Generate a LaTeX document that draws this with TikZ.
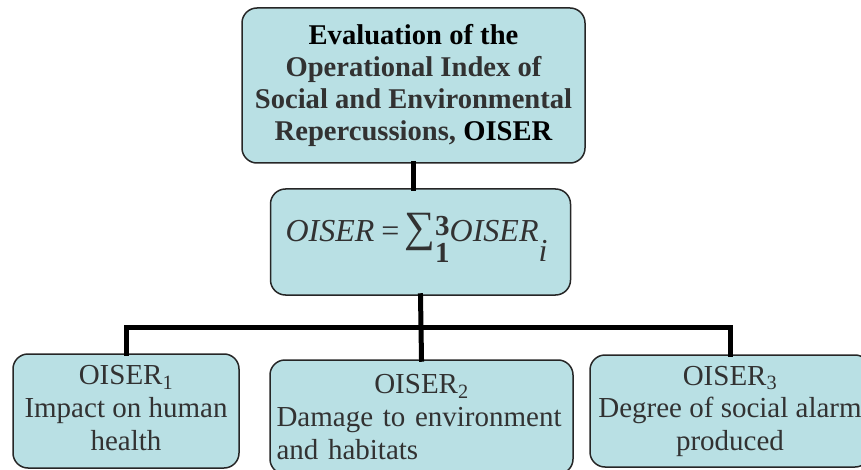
\documentclass[tikz,border=0pt]{standalone}
\usepackage{fontspec}
\setmainfont{Liberation Serif}
\usepackage{xcolor}
\definecolor{boxfill}{RGB}{185,224,228}
\definecolor{boxtext}{RGB}{50,50,50}

\begin{document}
\begin{tikzpicture}[x=1pt,y=-1pt,
    box/.style={draw=black!85,line width=1.5pt,fill=boxfill,rounded corners=15pt,inner sep=0pt,align=center,text=boxtext},
    link/.style={line width=5pt,line cap=rect}]
  \useasboundingbox (0,0) rectangle (861,470);
  \clip (0,0) rectangle (861,470);
  % boxes
  \node[box,minimum width=343pt,minimum height=155pt,font=\fontsize{28.6}{32}\selectfont\bfseries] (eval) at (413.5,85.5)
    {\textcolor{black}{Evaluation of the}\\Operational Index of\\Social and Environmental\\Repercussions, \textcolor{black}{OISER}};
  \node[box,minimum width=300pt,minimum height=106pt,text height=10pt,text depth=11pt,font=\fontsize{32}{36}\selectfont] (sum) at (420.5,242)
    {\hspace*{-8pt}\textit{OISER}\hspace{7pt}=\hspace{5pt}\scalebox{1.35}{∑}\rlap{\smash{\raisebox{6pt}{\fontsize{29}{29}\selectfont\textbf{3}}}}\smash{\raisebox{-21pt}{\fontsize{29}{29}\selectfont\textbf{1}}}\textit{OISER}\smash{\raisebox{-20pt}{\textit{i}}}};
  \node[box,minimum width=226pt,minimum height=114pt,font=\fontsize{29}{33}\selectfont] (oiser1) at (126,411)
    {OISER\textsubscript{1}\\Impact on human\\health\rule[-6pt]{0pt}{6pt}};
  \node[box,minimum width=303pt,minimum height=114pt,text width=290pt,align=left,font=\fontsize{29}{33}\selectfont] (oiser2) at (421.5,417)
    {\makebox[\linewidth]{OISER\textsubscript{2}}\\Damage to environment\\and habitats};
  \node[box,minimum width=280pt,minimum height=112pt,font=\fontsize{29}{32.5}\selectfont] (oiser3) at (730,411)
    {OISER\textsubscript{3}\\Degree of social alarm\\produced};
  % connectors
  \coordinate (bus) at (0,327);
  \draw[link] (eval.south) -- (eval.south |- sum.north);
  \draw[link] (sum.south) -- (oiser2.north);
  \draw[link] (oiser1.north) -- (oiser1.north |- bus) -- (oiser3.north |- bus) -- (oiser3.north);
\end{tikzpicture}
\end{document}
